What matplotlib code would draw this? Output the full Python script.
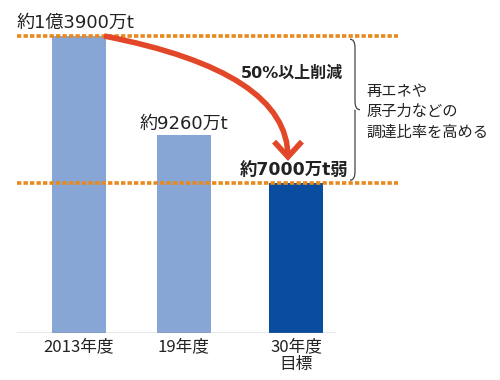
import matplotlib
matplotlib.use("Agg")
import matplotlib.pyplot as plt
from matplotlib.patches import FancyArrowPatch, PathPatch
from matplotlib.path import Path
import matplotlib.transforms as mtransforms

plt.rcParams['font.family'] = ['Noto Sans CJK JP', 'DejaVu Sans']
LBL = ['DejaVu Sans', 'Noto Sans CJK JP']

categories = ["2013年度", "19年度", "30年度\n目標"]
values = [13900, 9260, 7000]
value_labels = ["約1億3900万t", "約9260万t", "約7000万t弱"]
colors = ["#88a6d5", "#88a6d5", "#0a4d9e"]
reduction_label = "50%以上削減"
note_label = "再エネや\n原子力などの\n調達比率を高める"

xpos = [0, 1, 2.08]
unit = 104.5  # px per x unit
px = values[0] / 297  # data per px (vertical)

fig = plt.figure(figsize=(5, 3.8), dpi=100)
ax = fig.add_axes([0, 47 / 380, 1, 333 / 380])
ax.set_xlim(-79 / unit, (500 - 79) / unit)
ax.set_ylim(0, values[0] * 333 / 297)
ax.axis('off')

ax.bar(xpos, values, width=54 / unit, color=colors, zorder=2)

# baseline
ax.plot([-62 / unit, (335 - 79) / unit], [0, 0], color="#8c8c8c", lw=1.0, zorder=3)

# dashed orange reference lines
for v in (values[0], values[2]):
    ax.plot([-62 / unit, (398 - 79) / unit], [v, v], color="#e8891c", lw=2.6,
            linestyle=(0, (1.2, 0.6)), dash_capstyle='butt', zorder=4)

# category labels
for x, c in zip(xpos, categories):
    ax.text(x, -5 * px, c, ha='center', va='top', fontsize=12,
            color="#222222", linespacing=1.05)

# value labels
ax.text(-62 / unit, values[0] + 4 * px, value_labels[0], ha='left', va='bottom',
        fontsize=13, color="#222222", family=LBL)
ax.text(xpos[1], values[1] + 2 * px, value_labels[1], ha='center', va='bottom',
        fontsize=13, color="#222222", family=LBL)
ax.text((348 - 79) / unit, values[2] + 4 * px, value_labels[2], ha='right', va='bottom',
        fontsize=12.5, fontweight='bold', color="#222222", family=LBL)
ax.text((343 - 79) / unit, (333 - 73) * px, reduction_label, ha='right', va='center',
        fontsize=11.5, fontweight='bold', color="#222222", family=LBL)

# red arrow
arrow = FancyArrowPatch((xpos[0] + 25 / unit, values[0]),
                        ((288 - 79) / unit, (333 - 161) * px),
                        connectionstyle="angle3,angleA=-11,angleB=90",
                        arrowstyle="->,head_length=0.55,head_width=0.5",
                        mutation_scale=20,
                        color="#e2472a", lw=4, zorder=5, shrinkA=0, shrinkB=0,
                        joinstyle='miter', capstyle='butt')
ax.add_patch(arrow)

# curly bracket
trans = mtransforms.blended_transform_factory(ax.transAxes, ax.transData)
bx = 350 / 500
w = 5 / 500
top, bot = values[0] - 150, values[2] + 150
mid = (top + bot) / 2
r = 400
verts = [(bx, top), (bx + w, top), (bx + w, top - r),
         (bx + w, mid + r),
         (bx + w, mid), (bx + 2 * w, mid), (bx + 2 * w, mid),
         (bx + w, mid), (bx + w, mid - r), (bx + w, mid - r),
         (bx + w, bot + r),
         (bx + w, bot), (bx, bot), (bx, bot)]
codes = [Path.MOVETO, Path.CURVE3, Path.CURVE3,
         Path.LINETO,
         Path.CURVE3, Path.CURVE3, Path.LINETO,
         Path.MOVETO, Path.LINETO, Path.LINETO,
         Path.LINETO,
         Path.CURVE3, Path.CURVE3, Path.LINETO]
ax.add_patch(PathPatch(Path(verts, codes), transform=trans, fill=False,
                       edgecolor="#444444", lw=0.9, zorder=5))

ax.text(366 / 500, mid - 2 * px, note_label, transform=trans, ha='left', va='center',
        fontsize=11, color="#222222", linespacing=1.25)

fig.savefig("out.png", dpi=100)
